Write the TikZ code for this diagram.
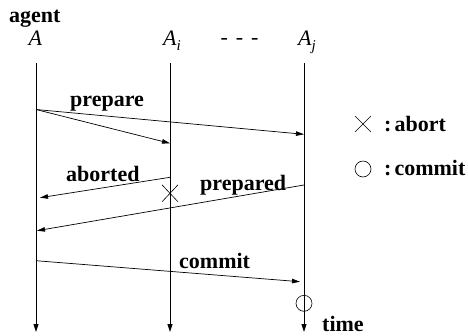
\documentclass[tikz,border=0pt]{standalone}
\usepackage{fontspec}
\setmainfont{Liberation Serif}
\usetikzlibrary{arrows.meta}
\begin{document}
\begin{tikzpicture}[x=1pt,y=-1pt,
  lbl/.style={font=\fontsize{22}{25}\selectfont\bfseries, inner sep=0pt, anchor=base west},
  ttl/.style={font=\fontsize{22}{25}\selectfont, inner sep=0pt, anchor=base west},
  life/.style={line width=0.8pt, -{Triangle[length=8pt,width=5pt]}},
  msg/.style={line width=0.7pt, -{Triangle[length=8pt,width=4.5pt]}},
  symline/.style={line width=0.6pt}]
\useasboundingbox (0,0) rectangle (468,335);
% headings
\node[lbl] (agent) at (9,22) {agent};
\node[ttl] (hA) at (28.5,45) {\itshape A};
\node[ttl] (hAi) at (163,45) {\itshape A\raisebox{-0.25em}{\fontsize{15}{16}\selectfont i}};
\node[ttl] (hAj) at (298,45) {\itshape A\raisebox{-0.25em}{\fontsize{15}{16}\selectfont j}};
\node[ttl, anchor=center] (dots) at (239.5,41) {-\hspace{8pt}-\hspace{8pt}-};
% lifelines
\coordinate (Atop) at (36,63);   \coordinate (Abot) at (36,332);
\coordinate (Aitop) at (170,63); \coordinate (Aibot) at (170,332);
\coordinate (Ajtop) at (304,63); \coordinate (Ajbot) at (304,332);
\draw[life] (Atop) -- (Abot);
\draw[life] (Aitop) -- (Aibot);
\draw[life] (Ajtop) -- (Ajbot);
% message points
\coordinate (p0) at (36,109.5);
\coordinate (p1) at (170,143.3);
\coordinate (p2) at (304,134.3);
\coordinate (a0) at (170,177.3);
\coordinate (a1) at (40,197.7);
\coordinate (r0) at (304,185);
\coordinate (r1) at (37,230.7);
\coordinate (c0) at (36,260.7);
\coordinate (c1) at (300,281.7);
\draw[msg] (p0) -- (p1);
\draw[msg] (p0) -- (p2);
\draw[msg] (a0) -- (a1);
\draw[msg] (r0) -- (r1);
\draw[msg] (c0) -- (c1);
% labels
\node[lbl] (lprep) at (70,106.5) {prepare};
\node[lbl] (labt) at (66,181.5) {aborted};
\node[lbl] (lprd) at (200,190.5) {prepared};
\node[lbl] (lcom) at (179,268.5) {commit};
\node[lbl] (ltime) at (322,331.5) {time};
% abort mark and commit mark
\coordinate (x0) at (170,193.3);
\draw[symline] ([shift={(-8,-8.5)}]x0) -- ([shift={(8,8.5)}]x0);
\draw[symline] ([shift={(-8,8.5)}]x0) -- ([shift={(8,-8.5)}]x0);
\coordinate (o0) at (304,303.3);
\draw[symline] (o0) circle (8);
% legend
\coordinate (lx) at (363,124);
\draw[symline] ([shift={(-8,-8)}]lx) -- ([shift={(8,8)}]lx);
\draw[symline] ([shift={(-8,8)}]lx) -- ([shift={(8,-8)}]lx);
\node[lbl] (labort) at (384,131.5) {:\hspace{3pt}abort};
\coordinate (lo) at (363,169);
\draw[symline] (lo) circle (8);
\node[lbl] (lcommit) at (384,175) {:\hspace{3pt}commit};
\end{tikzpicture}
\end{document}
